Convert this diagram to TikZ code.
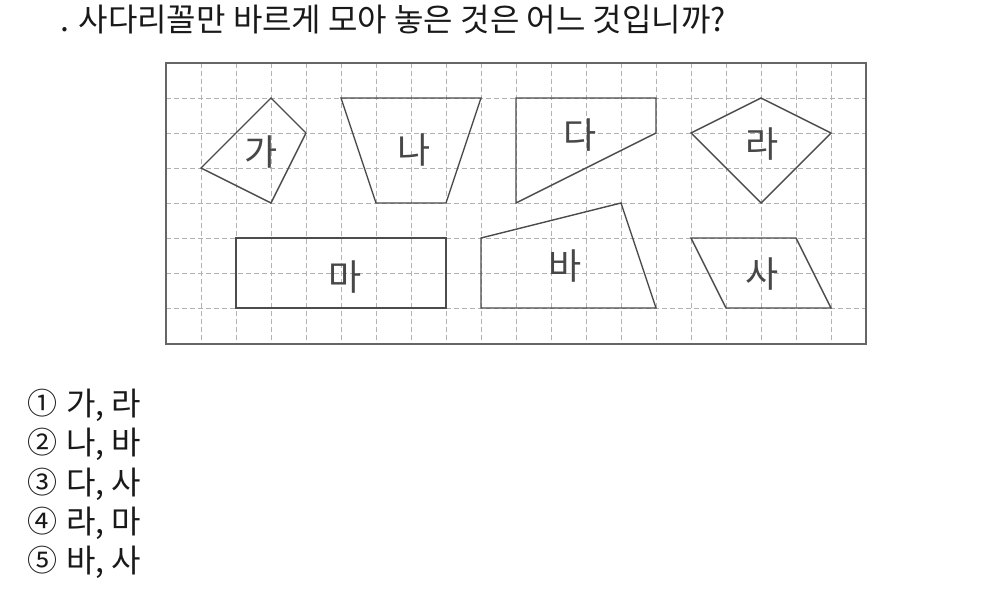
\documentclass[tikz,border=0pt]{standalone}
\usepackage{fontspec}
\newfontfamily\kr{Noto Sans CJK KR}
\begin{document}
\begin{tikzpicture}[x=1pt,y=-1pt,
  gridline/.style={draw=gray!60, dash pattern=on 5pt off 3pt, line width=0.9pt},
  frame/.style={draw=black!60, line width=1.5pt},
  figline/.style={draw=black!70, line width=1.4pt, line join=miter},
  lab/.style={font=\kr\fontsize{36}{36}\selectfont, text=black!72, inner sep=0pt},
  txt/.style={font=\kr\fontsize{32}{32}\selectfont, text=black!90, inner sep=0pt, anchor=base west},
  num/.style={font=\kr\fontsize{30}{30}\selectfont, text=black!90, inner sep=0pt, anchor=base west}]
\useasboundingbox (0,0) rectangle (981,599);
\fill[white] (0,0) rectangle (981,599);
% grid
\foreach \k in {1,...,19} {\draw[gridline] (166+35*\k,63) -- (166+35*\k,344);}
\foreach \k in {1,...,7} {\draw[gridline] (166,63+35*\k) -- (866,63+35*\k);}
\draw[frame] (166,63) rectangle (866,344);
% shapes
\draw[figline] (271,98) -- (306,133) -- (271,203) -- (201,168) -- cycle;
\draw[figline] (341,98) -- (481,98) -- (446,203) -- (376,203) -- cycle;
\draw[figline] (516,98) -- (656,98) -- (656,133) -- (516,203) -- cycle;
\draw[figline] (761,98) -- (831,133) -- (761,203) -- (691,133) -- cycle;
\draw[figline] (236,238) rectangle (446,308);
\draw[figline] (481,238) -- (621,203) -- (656,308) -- (481,308) -- cycle;
\draw[figline] (691,238) -- (796,238) -- (831,308) -- (726,308) -- cycle;
% labels
\node[lab] (ga) at (261,152) {가};
\node[lab] (na) at (414,150) {나};
\node[lab] (da) at (580,135) {다};
\node[lab] (ra) at (762,144) {라};
\node[lab] (ma) at (345,277) {마};
\node[lab] (ba) at (565,266) {바};
\node[lab] (sa) at (762,274) {사};
% question
\node[txt] (q) at (60,32) {. 사다리꼴만 바르게 모아 놓은 것은 어느 것입니까?};
% options
\node[num] (n1) at (27,414) {①};
\node[num] (n2) at (27,453) {②};
\node[num] (n3) at (27,493) {③};
\node[num] (n4) at (27,532) {④};
\node[num] (n5) at (27,571) {⑤};
\node[txt] (o1) at (66,415) {가, 라};
\node[txt] (o2) at (66,454) {나, 바};
\node[txt] (o3) at (66,494) {다, 사};
\node[txt] (o4) at (66,533) {라, 마};
\node[txt] (o5) at (66,572) {바, 사};
\end{tikzpicture}
\end{document}
